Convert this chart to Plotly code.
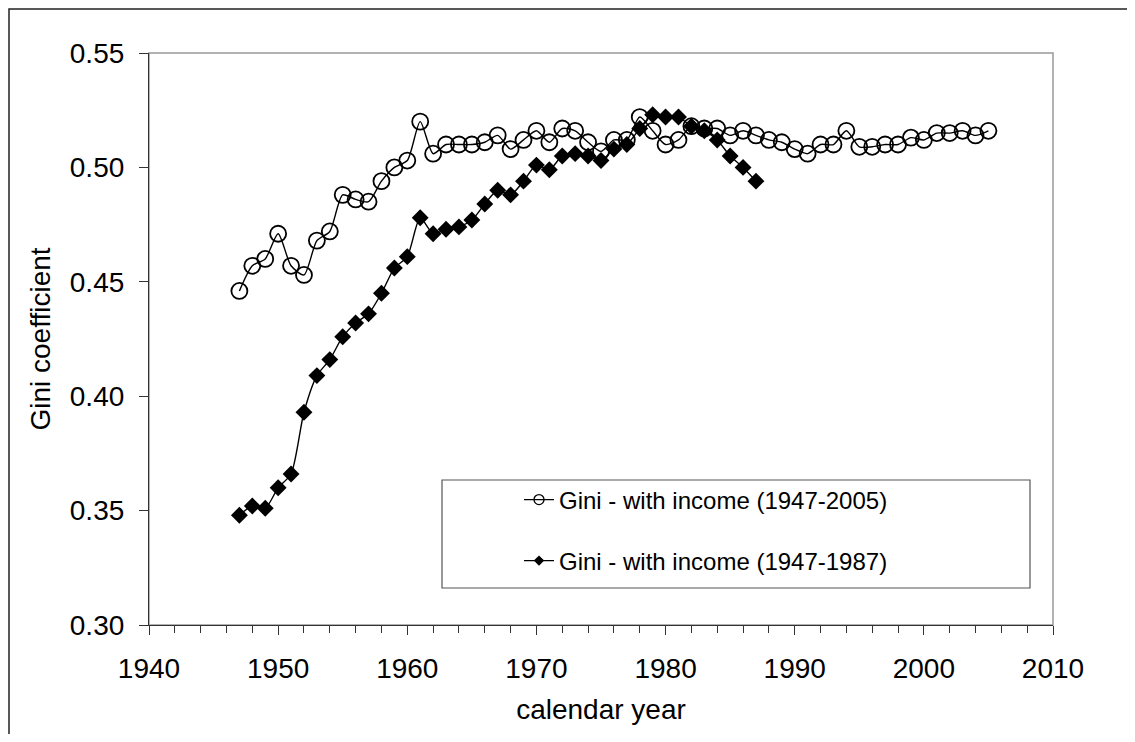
import plotly.graph_objects as go

years_a = list(range(1947, 2006))
gini_a = [0.446, 0.457, 0.460, 0.471, 0.457, 0.453, 0.468, 0.472, 0.488, 0.486,
          0.485, 0.494, 0.500, 0.503, 0.520, 0.506, 0.510, 0.510, 0.510, 0.511,
          0.514, 0.508, 0.512, 0.516, 0.511, 0.517, 0.516, 0.511, 0.507, 0.512,
          0.512, 0.522, 0.516, 0.510, 0.512, 0.518, 0.517, 0.517, 0.514, 0.516,
          0.514, 0.512, 0.511, 0.508, 0.506, 0.510, 0.510, 0.516, 0.509, 0.509,
          0.510, 0.510, 0.513, 0.512, 0.515, 0.515, 0.516, 0.514, 0.516]

years_b = list(range(1947, 1988))
gini_b = [0.348, 0.352, 0.351, 0.360, 0.366, 0.393, 0.409, 0.416, 0.426, 0.432,
          0.436, 0.445, 0.456, 0.461, 0.478, 0.471, 0.473, 0.474, 0.477, 0.484,
          0.490, 0.488, 0.494, 0.501, 0.499, 0.505, 0.506, 0.505, 0.503, 0.508,
          0.510, 0.517, 0.523, 0.522, 0.522, 0.518, 0.516, 0.512, 0.505, 0.500,
          0.494]

name_a = "Gini - with income (1947-2005)"
name_b = "Gini - with income (1947-1987)"

FONT = "Liberation Sans, Arial, sans-serif"
ink = "#000000"

fig = go.Figure()
fig.add_trace(go.Scatter(
    x=years_a, y=gini_a, mode="lines+markers", showlegend=False,
    line=dict(color=ink, width=1.4, shape="spline", smoothing=0.7),
    marker=dict(symbol="circle-open", size=16, color=ink, line=dict(width=1.8, color=ink)),
))
fig.add_trace(go.Scatter(
    x=years_b, y=gini_b, mode="lines+markers", showlegend=False,
    line=dict(color=ink, width=1.4, shape="spline", smoothing=0.7),
    marker=dict(symbol="diamond", size=13, color=ink),
))
# legend entries
fig.add_trace(go.Scatter(
    x=[None], y=[None], mode="lines+markers", name=name_a, legend="legend",
    line=dict(color=ink, width=1.3),
    marker=dict(symbol="circle-open", size=10, color=ink, line=dict(width=1.3, color=ink)),
))
fig.add_trace(go.Scatter(
    x=[None], y=[None], mode="lines+markers", name=name_b, legend="legend2",
    line=dict(color=ink, width=1.3),
    marker=dict(symbol="diamond", size=8, color=ink),
))

# page body has an 8px margin; plot area wanted at page pixels 149..1053 x 53..625
OFF = 8
L, R, T, B = 149, 1053, 53, 625
W, H = 1135 - 2 * OFF, 742 - 2 * OFF

def px_x(p):
    return (p - L) / (R - L)

def px_y(p):
    return (B - p) / (B - T)

axis_common = dict(
    showgrid=False, zeroline=False, showline=True, linecolor="#333333", linewidth=1.2,
    ticks="outside", tickcolor="#333333", tickwidth=1.2,
    tickfont=dict(family=FONT, size=28, color=ink),
    title_font=dict(family=FONT, size=28, color=ink),
)

fig.update_layout(
    width=W, height=H, autosize=False,
    margin=dict(l=L - OFF, r=W - (R - OFF), t=T - OFF, b=H - (B - OFF)),
    paper_bgcolor="white", plot_bgcolor="white",
    font=dict(family=FONT, color=ink),
    xaxis=dict(range=[1940, 2010], tickmode="linear", tick0=1940, dtick=10, ticklen=9,
               minor=dict(dtick=2, ticks="outside", ticklen=7, tickcolor="#333333", tickwidth=1.2),
               title=dict(text="calendar year", standoff=16), ticklabelstandoff=9, **axis_common),
    yaxis=dict(range=[0.30, 0.55], tickmode="linear", tick0=0.30, dtick=0.05, ticklen=9,
               tickformat=".2f", title=dict(text="Gini coefficient", standoff=10),
               ticklabelstandoff=9, **axis_common),
    legend=dict(x=px_x(519), y=px_y(500), xanchor="left", yanchor="middle",
                bgcolor="rgba(0,0,0,0)", borderwidth=0,
                font=dict(family=FONT, size=24, color=ink)),
    legend2=dict(x=px_x(519), y=px_y(561), xanchor="left", yanchor="middle",
                 bgcolor="rgba(0,0,0,0)", borderwidth=0,
                 font=dict(family=FONT, size=24, color=ink)),
    shapes=[
        # plot-area frame (top/right grey)
        dict(type="rect", xref="paper", yref="paper", x0=0, x1=1, y0=0, y1=1,
             line=dict(color="#999999", width=1.5), layer="below"),
        # legend box
        dict(type="rect", xref="paper", yref="paper",
             x0=px_x(442), x1=px_x(1030), y0=px_y(588), y1=px_y(480),
             line=dict(color="#555555", width=1.2), fillcolor="white", layer="below"),
        # outer chart border (extends past the picture on right and bottom)
        dict(type="rect", xref="paper", yref="paper",
             x0=px_x(9), x1=px_x(1180), y0=px_y(800), y1=px_y(9),
             line=dict(color="#222222", width=1.5), layer="below"),
    ],
)

fig.write_html("out.html")
